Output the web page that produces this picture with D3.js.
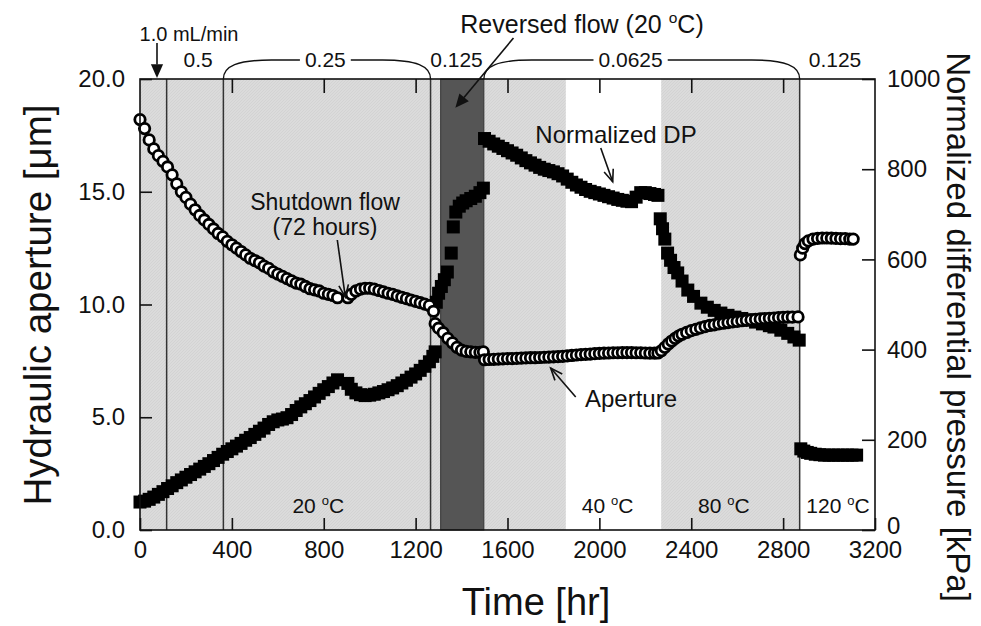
<!DOCTYPE html>
<html>
<head>
<meta charset="utf-8">
<script src="https://cdn.jsdelivr.net/npm/d3@7"></script>
<style>
body { margin: 0; background: #fff; }
text { font-family: "Liberation Sans", Arial, Helvetica, sans-serif; fill: #111; }
</style>
</head>
<body>
<svg id="chart" width="981" height="626"></svg>
<script>
// hydraulic aperture [um] vs time [hr] (open circles, left axis)
const apertureData = [
  [0,18.2],[20,17.8],[40,17.3],[60,16.9],[80,16.6],[100,16.35],[120,16.1],[140,15.75],[160,15.35],[180,15.0],
  [200,14.75],[220,14.45],[240,14.2],[260,13.95],[280,13.75],[300,13.55],[320,13.35],[340,13.15],[360,13.0],[380,12.8],
  [400,12.65],[420,12.5],[440,12.35],[460,12.2],[480,12.05],[500,11.95],[520,11.85],[540,11.7],[560,11.6],[580,11.45],
  [600,11.35],[620,11.25],[640,11.15],[660,11.05],[680,10.95],[700,10.9],[720,10.8],[740,10.7],[760,10.65],[780,10.6],
  [800,10.5],[820,10.45],[840,10.4],[860,10.3],
  [905,10.3],[920,10.45],[940,10.6],[960,10.68],[980,10.72],[1000,10.72],[1020,10.68],[1040,10.62],[1060,10.56],[1080,10.5],
  [1100,10.45],[1120,10.38],[1140,10.32],[1160,10.26],[1180,10.2],[1200,10.14],[1220,10.08],[1240,10.02],[1260,9.95],[1278,9.7],
  [1285,9.15],[1300,8.95],[1320,8.75],[1340,8.5],[1360,8.3],[1380,8.1],[1400,7.98],[1420,7.92],[1440,7.9],[1460,7.88],
  [1480,7.88],[1495,7.9],
  [1500,7.55],[1520,7.56],[1540,7.57],[1560,7.58],[1580,7.59],[1600,7.6],[1620,7.6],[1640,7.61],[1660,7.62],[1680,7.63],
  [1700,7.64],[1720,7.64],[1740,7.65],[1760,7.66],[1780,7.67],[1800,7.68],[1820,7.69],[1840,7.7],[1860,7.72],[1880,7.74],
  [1900,7.76],[1920,7.78],[1940,7.79],[1960,7.8],[1980,7.82],[2000,7.83],[2020,7.84],[2040,7.85],[2060,7.86],[2080,7.86],
  [2100,7.87],[2120,7.87],[2140,7.87],[2160,7.86],[2180,7.86],[2200,7.85],[2220,7.84],[2240,7.84],[2255,7.85],[2270,7.95],
  [2285,8.1],[2300,8.25],[2315,8.38],[2330,8.5],[2345,8.6],[2360,8.68],[2380,8.76],[2400,8.84],[2420,8.9],[2440,8.96],
  [2460,9.02],[2480,9.07],[2500,9.1],[2520,9.14],[2540,9.17],[2560,9.2],[2580,9.23],[2600,9.25],[2620,9.28],[2640,9.3],
  [2660,9.32],[2680,9.34],[2700,9.36],[2720,9.38],[2740,9.39],[2760,9.4],[2780,9.42],[2800,9.43],[2820,9.44],[2840,9.44],
  [2865,9.45],
  [2875,12.2],[2885,12.5],[2895,12.7],[2910,12.82],[2930,12.9],[2950,12.93],[2970,12.95],[2990,12.95],[3010,12.94],
  [3030,12.93],[3050,12.92],[3070,12.92],[3090,12.9],[3105,12.9]
];

// normalized differential pressure [kPa] vs time [hr] (filled squares, right axis)
const dpData = [
  [0,62],[20,64],[40,68],[60,73],[80,79],[100,85],[120,92],[140,98],[160,105],[180,111],
  [200,117],[220,123],[240,129],[260,135],[280,141],[300,147],[320,154],[340,161],[360,168],[380,174],
  [400,180],[420,186],[440,192],[460,199],[480,205],[500,212],[520,219],[540,226],[560,234],[580,240],
  [600,244],[620,246],[640,249],[660,256],[680,265],[700,273],[720,280],[740,287],[760,295],[780,303],
  [800,311],[820,318],[840,326],[860,333],
  [905,325],[920,312],[940,304],[960,300],[980,298],[1000,299],[1020,301],[1040,304],[1060,307],[1080,311],
  [1100,315],[1120,320],[1140,326],[1160,332],[1180,339],[1200,346],[1220,354],[1240,363],[1260,373],[1275,385],[1285,395],
  [1290,505],[1300,525],[1312,540],[1325,555],[1338,572],[1355,614],[1364,672],[1375,705],[1390,718],[1405,725],
  [1420,730],[1440,735],[1460,740],[1480,748],[1495,758],
  [1500,868],[1520,862],[1540,856],[1560,851],[1580,846],[1600,841],[1620,836],[1640,831],[1660,825],[1680,819],
  [1700,814],[1720,809],[1740,804],[1760,800],[1780,797],[1800,794],[1820,790],[1840,785],[1860,778],[1880,771],
  [1900,765],[1920,760],[1940,755],[1960,751],[1980,748],[2000,745],[2020,742],[2040,739],[2060,736],[2080,733],
  [2100,731],[2120,729],[2140,728],[2160,738],[2180,748],[2200,748],[2220,746],[2240,744],[2255,742],
  [2265,690],[2275,668],[2285,645],[2297,614],[2310,598],[2325,582],[2341,570],[2360,552],[2385,532],[2410,518],
  [2442,503],[2470,494],[2500,487],[2529,481],[2560,476],[2590,472],[2620,469],[2646,466],[2680,461],[2710,457],
  [2740,453],[2760,450],[2790,443],[2820,436],[2847,428],[2870,421],
  [2877,180],[2890,175],[2905,172],[2920,170],[2940,168],[2960,167],[2980,166],[3000,166],[3020,166],[3040,166],
  [3060,166],[3080,166],[3100,166],[3120,166]
];

const leftTicks = [0, 5, 10, 15, 20];
const rightTicks = [0, 200, 400, 600, 800, 1000];
const timeTicks = [0, 400, 800, 1200, 1600, 2000, 2400, 2800, 3200];
const topTicks = [400, 800, 1200, 1600, 2000, 2400, 2800];

const lightShade = [[0, 1309], [1497, 1854], [2269, 2872]];   // hr
const reversedFlow = [1309, 1497];                               // hr
const flowChanges = [116, 363, 1265, 2872];                      // hr
const flowLabels = [["0.5", 253], ["0.125", 1378], ["0.125", 3026]];
const flowBraces = [["0.25", 363, 1265, 807], ["0.0625", 1497, 2872, 2136]];
const tempLabels = [["20", 776], ["40", 2036], ["80", 2542], ["120", 3039]];

const svg = d3.select("#chart");
const x = d3.scaleLinear().domain([0, 3200]).range([140, 875]);
const yL = d3.scaleLinear().domain([0, 20]).range([530, 79]);
const yR = d3.scaleLinear().domain([0, 1000]).range([530, 79]);
const plotTop = yL(20), plotBottom = yL(0);

// texture for the shaded bands
const defs = svg.append("defs");
const pat = defs.append("pattern").attr("id", "hatch").attr("patternUnits", "userSpaceOnUse")
  .attr("width", 3).attr("height", 3);
pat.append("rect").attr("width", 3).attr("height", 3).attr("fill", "#dbdbdb");
pat.append("path").attr("d", "M0,3 L3,0").attr("stroke", "#d0d0d0").attr("stroke-width", 0.7);

svg.selectAll("rect.shade")
  .data(lightShade)
  .enter().append("rect")
  .attr("class", "shade")
  .attr("x", d => x(d[0]))
  .attr("y", plotTop)
  .attr("width", d => x(d[1]) - x(d[0]))
  .attr("height", plotBottom - plotTop)
  .attr("fill", "url(#hatch)");

svg.append("rect")
  .attr("x", x(reversedFlow[0]))
  .attr("y", plotTop)
  .attr("width", x(reversedFlow[1]) - x(reversedFlow[0]))
  .attr("height", plotBottom - plotTop)
  .attr("fill", "#555")
  .attr("stroke", "#333")
  .attr("stroke-width", 1);

svg.selectAll("line.flow")
  .data(flowChanges)
  .enter().append("line")
  .attr("x1", d => x(d)).attr("x2", d => x(d))
  .attr("y1", plotTop).attr("y2", plotBottom)
  .attr("stroke", "#333").attr("stroke-width", 1.5);

// data
const sq = 13;
svg.selectAll("rect.dp")
  .data(dpData)
  .enter().append("rect")
  .attr("class", "dp")
  .attr("x", d => x(d[0]) - sq / 2)
  .attr("y", d => yR(d[1]) - sq / 2)
  .attr("width", sq).attr("height", sq)
  .attr("fill", "#000");

svg.selectAll("circle.ap")
  .data(apertureData)
  .enter().append("circle")
  .attr("class", "ap")
  .attr("cx", d => x(d[0]))
  .attr("cy", d => yL(d[1]))
  .attr("r", 5.2)
  .attr("fill", "#fff")
  .attr("stroke", "#000")
  .attr("stroke-width", 2.8);

// frame + axes
svg.append("rect")
  .attr("x", x(0)).attr("y", plotTop)
  .attr("width", x(3200) - x(0)).attr("height", plotBottom - plotTop)
  .attr("fill", "none").attr("stroke", "#111").attr("stroke-width", 1.6);

function styleAxis(g, size) {
  g.select(".domain").remove();
  g.selectAll(".tick line").attr("stroke", "#111").attr("stroke-width", 1.6);
  g.selectAll(".tick text").attr("font-size", size).attr("fill", "#111")
    .attr("font-family", "Liberation Sans, Arial, sans-serif");
}

svg.append("g")
  .attr("transform", `translate(0,${plotBottom})`)
  .call(d3.axisBottom(x).tickValues(timeTicks).tickSize(-12).tickPadding(11).tickFormat(d3.format("d")))
  .call(g => styleAxis(g, 24));

svg.append("g")
  .attr("transform", `translate(0,${plotTop})`)
  .call(d3.axisTop(x).tickValues(topTicks).tickSize(-14).tickFormat(""))
  .call(g => styleAxis(g, 24));

svg.append("g")
  .attr("transform", `translate(${x(0)},0)`)
  .call(d3.axisLeft(yL).tickValues(leftTicks).tickSize(-12).tickPadding(15).tickFormat(d3.format(".1f")))
  .call(g => styleAxis(g, 24));

svg.append("g")
  .attr("transform", `translate(${x(3200)},0)`)
  .call(d3.axisRight(yR).tickValues(rightTicks).tickSize(-13).tickPadding(12).tickFormat(d3.format("d")))
  .call(g => styleAxis(g, 24))
  .call(g => g.selectAll(".tick text").filter(d => d === 0).attr("y", -4));

// axis titles
svg.append("text")
  .attr("transform", `translate(51,305) rotate(-90)`)
  .attr("text-anchor", "middle")
  .attr("font-size", 38.5)
  .text("Hydraulic aperture [\u03bcm]");

svg.append("text")
  .attr("transform", `translate(947,327) rotate(90)`)
  .attr("text-anchor", "middle")
  .attr("font-size", 33)
  .text("Normalized differential pressure [kPa]");

svg.append("text")
  .attr("x", 536).attr("y", 615)
  .attr("text-anchor", "middle")
  .attr("font-size", 38)
  .text("Time [hr]");

// degree labels with raised "o"
function degText(xPos, yPos, before, after, size) {
  const t = svg.append("text").attr("x", xPos).attr("y", yPos)
    .attr("text-anchor", "middle").attr("font-size", size);
  t.append("tspan").text(before);
  t.append("tspan").attr("font-size", size * 0.62).attr("dy", -size * 0.4).text("o");
  t.append("tspan").attr("dy", size * 0.4).text(after);
  return t;
}

tempLabels.forEach(d => degText(x(d[1]), 513, d[0] + " ", "C", 21));

// flow rates above the plot
flowLabels.forEach(d => {
  svg.append("text").attr("x", x(d[1])).attr("y", 67)
    .attr("text-anchor", "middle").attr("font-size", 21).text(d[0]);
});

flowBraces.forEach(d => {
  const x0 = x(d[1]), x1 = x(d[2]), xm = x(d[3]);
  const lbl = svg.append("text").attr("x", xm).attr("y", 67)
    .attr("text-anchor", "middle").attr("font-size", 21).text(d[0]);
  const w = lbl.node().getComputedTextLength();
  const yb = 60;
  svg.append("path")
    .attr("d", `M${x0},${plotTop} C${x0},${yb + 6} ${x0 + 14},${yb} ${x0 + 48},${yb} L${xm - w / 2 - 5},${yb}` +
               `M${xm + w / 2 + 5},${yb} L${x1 - 48},${yb} C${x1 - 14},${yb} ${x1},${yb + 6} ${x1},${plotTop}`)
    .attr("fill", "none").attr("stroke", "#111").attr("stroke-width", 1.4);
});

svg.append("text").attr("x", 189).attr("y", 41)
  .attr("text-anchor", "middle").attr("font-size", 20).text("1.0 mL/min");

// arrows
function arrow(x1, y1, x2, y2, filled) {
  const ang = Math.atan2(y2 - y1, x2 - x1);
  const len = filled ? 15 : 13, spread = filled ? 0.42 : 0.38;
  const ax = x2 - len * Math.cos(ang - spread), ay = y2 - len * Math.sin(ang - spread);
  const bx = x2 - len * Math.cos(ang + spread), by = y2 - len * Math.sin(ang + spread);
  if (filled) {
    const ex = x2 - len * 0.9 * Math.cos(ang), ey = y2 - len * 0.9 * Math.sin(ang);
    svg.append("line").attr("x1", x1).attr("y1", y1).attr("x2", ex).attr("y2", ey)
      .attr("stroke", "#111").attr("stroke-width", 1.6);
    svg.append("path").attr("d", `M${x2},${y2} L${ax},${ay} L${bx},${by} Z`).attr("fill", "#111");
  } else {
    svg.append("line").attr("x1", x1).attr("y1", y1).attr("x2", x2).attr("y2", y2)
      .attr("stroke", "#111").attr("stroke-width", 1.6);
    svg.append("path").attr("d", `M${ax},${ay} L${x2},${y2} L${bx},${by}`)
      .attr("fill", "none").attr("stroke", "#111").attr("stroke-width", 1.6);
  }
}

arrow(x(74), 43, x(74), 78, true);
arrow(x(1626), yR(1091), x(1373), yR(936), true);
arrow(x(859), yL(12.86), x(894), yL(10.33), false);
arrow(x(2006), yR(847), x(2058), yR(772), false);
arrow(x(1897), yL(5.9), x(1788), yL(7.18), false);

// annotations
degText(582, 33, "Reversed flow (20 ", "C)", 25);
svg.append("text").attr("x", 325).attr("y", 210).attr("text-anchor", "middle")
  .attr("font-size", 23).text("Shutdown flow");
svg.append("text").attr("x", 325).attr("y", 235).attr("text-anchor", "middle")
  .attr("font-size", 23).text("(72 hours)");
svg.append("text").attr("x", 616).attr("y", 143).attr("text-anchor", "middle")
  .attr("font-size", 24).text("Normalized DP");
svg.append("text").attr("x", 631).attr("y", 407).attr("text-anchor", "middle")
  .attr("font-size", 24).text("Aperture");
</script>
</body>
</html>
